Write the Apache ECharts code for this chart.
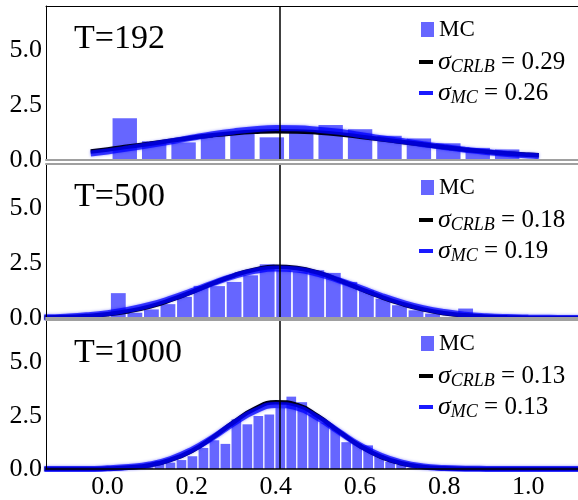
<!DOCTYPE html>
<html>
<head>
<meta charset="utf-8">
<script src="https://cdn.jsdelivr.net/npm/echarts@6/dist/echarts.min.js"></script>
<style>
  html, body { margin: 0; padding: 0; background: #fff; }
  #chart { width: 578px; height: 500px; }
</style>
</head>
<body>
<div id="chart"></div>
<script>
// histogram bins (density), all panels start at the same edge
const binStart = 0.006
const binWidth = [0.0699, 0.0393, 0.0261]
const mc192 = [1.90, 0.85, 0.80, 1.09, 1.21, 1.03, 1.29, 1.59, 1.40, 1.10, 0.98, 0.76, 0.55, 0.48]
const mc500 = [1.13, 0.24, 0.39, 0.63, 0.96, 1.46, 1.45, 1.64, 1.94, 2.44, 2.17, 2.10, 2.17, 2.05,
  1.64, 1.26, 0.88, 0.58, 0.35, 0.20, 0.00, 0.43]
const mc1000 = [0, 0, 0, 0.08, 0.37, 0.30, 0.42, 0.60, 0.99, 1.35, 1.18, 2.33, 2.10, 2.49,
  2.56, 2.87, 3.40, 3.14, 2.56, 2.18, 1.87, 1.26, 1.18, 1.11, 0.65, 0.34, 0.20, 0.05]

// gaussian curves
const p192 = [-0.04, 0.0, 0.05, 0.1, 0.15, 0.2, 0.25, 0.3, 0.35, 0.4, 0.45, 0.5, 0.55, 0.6,
  0.65, 0.7, 0.75, 0.8, 0.85, 0.9, 0.95, 1.0, 1.025]
const crlb192 = [0.39, 0.48, 0.61, 0.74, 0.88, 1.01, 1.13, 1.22, 1.28, 1.31, 1.30, 1.25, 1.17, 1.06,
  0.94, 0.82, 0.70, 0.58, 0.47, 0.38, 0.30, 0.24, 0.22]
const fit192 = [0.30, 0.39, 0.53, 0.68, 0.84, 1.01, 1.17, 1.30, 1.40, 1.45, 1.44, 1.38, 1.28, 1.14,
  0.99, 0.86, 0.72, 0.59, 0.47, 0.36, 0.27, 0.20, 0.17]

const pFull = [-0.15, -0.1, -0.05, 0.0, 0.05, 0.1, 0.15, 0.2, 0.25, 0.3, 0.35, 0.4, 0.45, 0.5,
  0.55, 0.6, 0.65, 0.7, 0.75, 0.8, 0.85, 0.9, 0.95, 1.0, 1.05, 1.1, 1.15]
const crlb500 = [0.02, 0.04, 0.09, 0.17, 0.31, 0.52, 0.82, 1.18, 1.57, 1.93, 2.20, 2.33, 2.27, 2.06,
  1.72, 1.33, 0.96, 0.64, 0.39, 0.22, 0.12, 0.06, 0.03, 0.01, 0, 0, 0]
const fit500 = [0.03, 0.06, 0.12, 0.22, 0.38, 0.59, 0.88, 1.22, 1.58, 1.90, 2.14, 2.25, 2.20, 2.01,
  1.71, 1.37, 1.01, 0.70, 0.45, 0.27, 0.15, 0.08, 0.04, 0.02, 0.01, 0, 0]
const crlb1000 = [0, 0, 0, 0.02, 0.07, 0.18, 0.43, 0.85, 1.48, 2.20, 2.83, 3.14, 3.01, 2.48,
  1.76, 1.08, 0.57, 0.26, 0.10, 0.035, 0.01, 0, 0, 0, 0, 0, 0]
const fit1000 = [0, 0, 0, 0.03, 0.09, 0.21, 0.47, 0.90, 1.48, 2.15, 2.72, 3.01, 2.89, 2.40,
  1.75, 1.11, 0.62, 0.30, 0.12, 0.045, 0.015, 0.004, 0, 0, 0, 0, 0]

const trueP = 0.41
const sampleSizes = ['192', '500', '1000']
const sigmaCRLB = ['0.29', '0.18', '0.13']
const sigmaMC = ['0.26', '0.19', '0.13']
const xTicks = [0.0, 0.2, 0.4, 0.6, 0.8, 1.0]

const FONT = "'Liberation Serif', serif"
const panelTop = [6, 164, 320]
const panelHeight = [154, 154, 153]
const barGap = [5, 1.7, 1.3]
const xMin = -0.1462, xMax = 1.118

const hists = [mc192, mc500, mc1000]
const curvesX = [p192, pFull, pFull]
const crlbY = [crlb192, crlb500, crlb1000]
const fitY = [fit192, fit500, fit1000]

function zip(xs, ys) {
  return xs.map((x, k) => [x, ys[k]])
}

function renderBar(gap) {
  return function (params, api) {
    const a = api.coord([api.value(0), api.value(2)])
    const b = api.coord([api.value(1), 0])
    return {
      type: 'rect',
      shape: { x: a[0] + gap / 2, y: a[1], width: b[0] - a[0] - gap, height: b[1] - a[1] },
      style: { fill: 'rgba(0,0,255,0.6)' }
    }
  }
}

const grid = [], xAxis = [], yAxis = [], series = [], legend = [], title = []

for (let i = 0; i < 3; i++) {
  const top = panelTop[i]
  const last = i === 2
  grid.push({ left: 46, right: -4, top: top, height: panelHeight[i] })

  // bottom spine, tick labels only on the last panel
  xAxis.push({
    type: 'value', gridIndex: i, min: xMin, max: xMax, z: 10,
    axisLine: { show: true, onZero: false, lineStyle: { color: last ? '#000' : '#a0a0a0', width: last ? 1.5 : 2 } },
    axisTick: { show: false },
    splitLine: { show: false },
    axisLabel: {
      show: last, customValues: xTicks, margin: 5,
      formatter: v => v.toFixed(1),
      fontFamily: FONT, fontSize: 26, color: '#000'
    }
  })
  // top spine
  xAxis.push({
    type: 'value', gridIndex: i, position: 'top', min: xMin, max: xMax, z: 10,
    axisLine: { show: true, onZero: false, lineStyle: { color: i === 0 ? '#000' : '#a0a0a0', width: i === 0 ? 1 : 2 } },
    axisTick: { show: false }, splitLine: { show: false }, axisLabel: { show: false }
  })
  yAxis.push({
    type: 'value', gridIndex: i, min: 0, max: 7, interval: 2.5, z: 10,
    axisLine: { show: true, onZero: false, lineStyle: { color: '#000', width: 1 } },
    axisTick: { show: false },
    splitLine: { show: false },
    axisLabel: {
      showMaxLabel: false, margin: 4,
      formatter: v => v.toFixed(1),
      fontFamily: FONT, fontSize: 26, color: '#000'
    }
  })

  const w = binWidth[i]
  series.push({
    name: 'MC' + i, type: 'custom', xAxisIndex: 2 * i, yAxisIndex: i, z: 1,
    renderItem: renderBar(barGap[i]),
    encode: { x: [0, 1], y: 2 },
    itemStyle: { color: 'rgba(0,0,255,0.6)' },
    data: hists[i].map((h, k) => [binStart + k * w, binStart + (k + 1) * w, h])
  })
  series.push({
    name: 'CRLB' + i, type: 'line', xAxisIndex: 2 * i, yAxisIndex: i, z: 3,
    smooth: true, showSymbol: false, color: '#000',
    lineStyle: { color: '#000', width: 4.5 },
    data: zip(curvesX[i], crlbY[i])
  })
  series.push({
    name: 'FIT' + i, type: 'line', xAxisIndex: 2 * i, yAxisIndex: i, z: 4,
    smooth: true, showSymbol: false, color: '#0000ff',
    lineStyle: { color: '#0000ff', width: 6, opacity: 0.72, shadowBlur: 3, shadowColor: 'rgba(0,0,255,0.6)' },
    data: zip(curvesX[i], fitY[i]),
    markLine: {
      silent: true, symbol: 'none', animation: false,
      label: { show: false },
      lineStyle: { color: '#000', width: 1.5, type: 'solid', opacity: 1 },
      data: [{ xAxis: trueP }]
    }
  })

  title.push({
    text: 'T=' + sampleSizes[i], left: 74, top: top + 16, padding: 0,
    textStyle: { fontFamily: FONT, fontSize: 34, fontWeight: 'normal', color: '#000' }
  })

  const rich = {
    s: { fontFamily: FONT, fontStyle: 'italic', fontSize: 26, lineHeight: 28, color: '#000' },
    b: { fontFamily: FONT, fontStyle: 'italic', fontSize: 18, lineHeight: 14, verticalAlign: 'bottom', color: '#000' },
    t: { fontFamily: FONT, fontSize: 25, lineHeight: 28, color: '#000' }
  }
  legend.push({
    data: [{ name: 'MC' + i, icon: 'rect', itemStyle: { color: 'rgba(0,0,255,0.6)' } }],
    left: 421, top: top + 12, padding: 0, itemWidth: 13, itemHeight: 15, selectedMode: false,
    formatter: () => 'MC',
    textStyle: { fontFamily: FONT, fontSize: 23, lineHeight: 22, color: '#000' }
  })
  legend.push({
    data: [{ name: 'CRLB' + i, icon: 'rect', itemStyle: { color: '#000' } }],
    left: 419, top: top + 43, padding: 0, itemWidth: 14, itemHeight: 4, selectedMode: false,
    formatter: () => '{s|σ}{b|CRLB}{t| = ' + sigmaCRLB[i] + '}',
    textStyle: { rich: rich }
  })
  legend.push({
    data: [{ name: 'FIT' + i, icon: 'rect', itemStyle: { color: '#1a1aff' } }],
    left: 419, top: top + 74, padding: 0, itemWidth: 14, itemHeight: 4, selectedMode: false,
    formatter: () => '{s|σ}{b|MC}{t| = ' + sigmaMC[i] + '}',
    textStyle: { rich: rich }
  })
}

const chart = echarts.init(document.getElementById('chart'))
chart.setOption({
  animation: false,
  backgroundColor: '#fff',
  textStyle: { fontFamily: FONT },
  title: title,
  legend: legend,
  grid: grid,
  xAxis: xAxis,
  yAxis: yAxis,
  series: series
})
</script>
</body>
</html>
